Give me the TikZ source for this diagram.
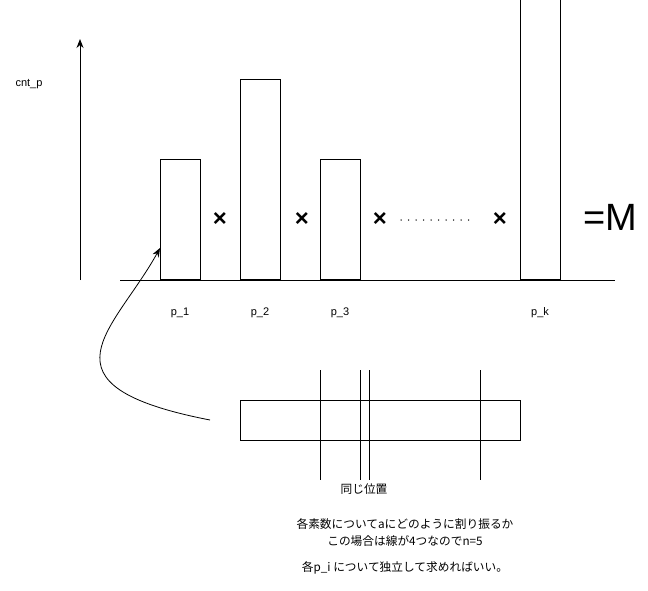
\documentclass[tikz,border=0pt]{standalone}
\usepackage{fontspec}
\setmainfont{Liberation Sans}
\newfontfamily\jpfont{Noto Sans CJK JP}
\usetikzlibrary{arrows.meta}
\begin{document}
\begin{tikzpicture}[x=1pt,y=-1pt,line width=1pt,
  bar/.style={draw,fill=white},
  lbl/.style={font=\fontsize{11}{13}\selectfont,inner sep=0pt},
  jp/.style={font=\jpfont\fontsize{11.7}{14}\selectfont,inner sep=0pt,align=center},
  times/.style={font=\fontsize{24}{26}\selectfont\bfseries,inner sep=0pt},
  arr/.style={-{Stealth[length=9pt,width=7pt]}}]
\useasboundingbox (0,0) rectangle (648,591);
% axis
\coordinate (ybot) at (80,280);
\coordinate (ytop) at (80,39);
\draw[arr] (ybot) -- (ytop);
\coordinate (bl) at (120,280);
\coordinate (br) at (615,280);
\draw (bl) -- (br);
\node[lbl] (cnt) at (29,84) {cnt\_p};
% bars
\node[bar,minimum width=40pt,minimum height=120pt,inner sep=0pt,anchor=south west] (b1) at (160,280) {};
\node[bar,minimum width=40pt,minimum height=200pt,inner sep=0pt,anchor=south west] (b2) at (240,280) {};
\node[bar,minimum width=40pt,minimum height=120pt,inner sep=0pt,anchor=south west] (b3) at (320,280) {};
\node[bar,minimum width=40pt,minimum height=280pt,inner sep=0pt,anchor=south west] (bk) at (520,280) {};
% times
\node[times] (t1) at (220,220) {×};
\node[times] (t2) at (302,220) {×};
\node[times] (t3) at (380,220) {×};
\node[times] (t4) at (500,220) {×};
\coordinate (d1) at (401,220);
\coordinate (d2) at (476,220);
\draw[line width=1.5pt,line cap=round,dash pattern=on 0pt off 7.5pt] (d1) -- (d2);
\node[font=\fontsize{38}{40}\selectfont,inner sep=0pt] (eqm) at (610,217) {=M};
% labels
\node[lbl] (p1) at (180,313) {p\_1};
\node[lbl] (p2) at (260,313) {p\_2};
\node[lbl] (p3) at (340,313) {p\_3};
\node[lbl] (pk) at (540,313) {p\_k};
% lower rectangle
\node[draw,minimum width=280pt,minimum height=40pt,inner sep=0pt,anchor=north west] (rect) at (240,400) {};
\foreach \x/\n in {320/v1,360/v2,369/v3,480/v4}{
  \coordinate (\n a) at (\x,370);
  \coordinate (\n b) at (\x,480);
  \draw (\n a) -- (\n b);
}
\node[jp] (same) at (364,489) {同じ位置};
\node[jp] (txt1) at (405,524) {各素数についてaにどのように割り振るか};
\node[jp] (txt2) at (405,541) {この場合は線が4つなのでn=5};
\node[jp] (txt3) at (405,568) {各p\_i について独立して求めればいい。};
% curve
\coordinate (cs) at (210,420);
\coordinate (ce) at (160,248);
\draw[arr,line width=0.8pt] (cs) .. controls (30,385) and (115,330) .. (ce);
\end{tikzpicture}
\end{document}
